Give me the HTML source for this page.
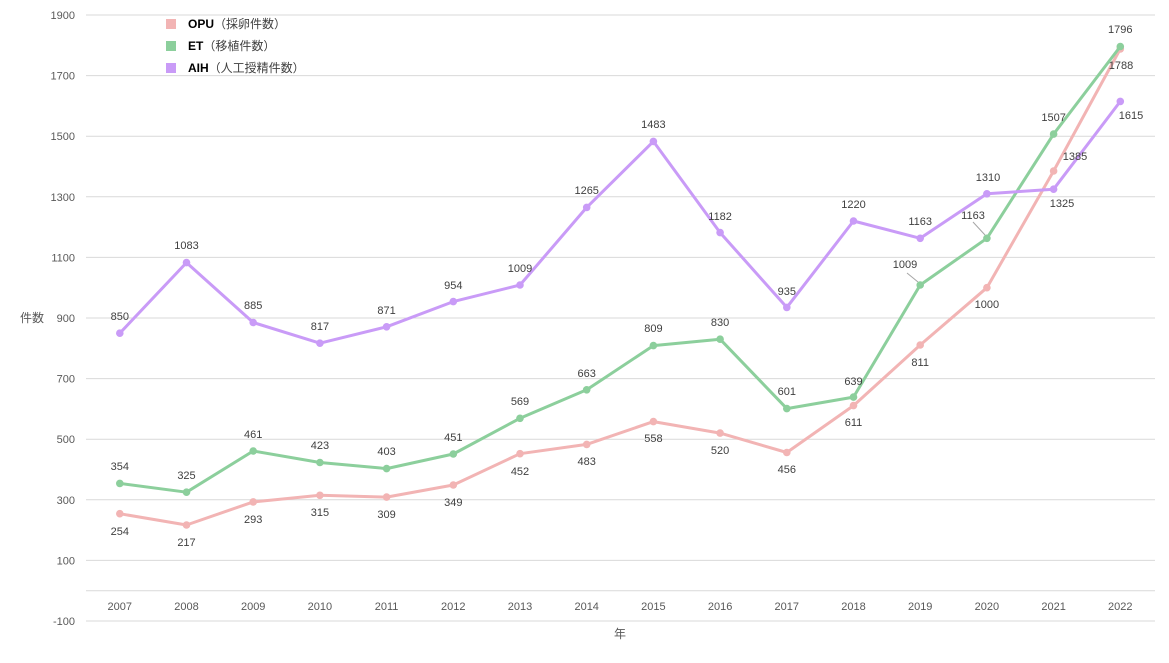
<!DOCTYPE html>
<html><head><meta charset="utf-8"><style>
html,body{margin:0;padding:0;background:#fff;}
svg{display:block;font-family:"Liberation Sans","Noto Sans CJK JP",sans-serif;}
.ax{font-size:11px;fill:#595959;}
.lb{font-size:11px;fill:#404040;}
</style></head><body>
<svg width="1169" height="663" viewBox="0 0 1169 663" xmlns="http://www.w3.org/2000/svg">
<rect width="1169" height="663" fill="#fff"/>
<g stroke="#d9d9d9" stroke-width="1">
<line x1="86" x2="1155" y1="15" y2="15"/>
<line x1="86" x2="1155" y1="75.6" y2="75.6"/>
<line x1="86" x2="1155" y1="136.2" y2="136.2"/>
<line x1="86" x2="1155" y1="196.8" y2="196.8"/>
<line x1="86" x2="1155" y1="257.4" y2="257.4"/>
<line x1="86" x2="1155" y1="318" y2="318"/>
<line x1="86" x2="1155" y1="378.6" y2="378.6"/>
<line x1="86" x2="1155" y1="439.2" y2="439.2"/>
<line x1="86" x2="1155" y1="499.8" y2="499.8"/>
<line x1="86" x2="1155" y1="560.4" y2="560.4"/>
<line x1="86" x2="1155" y1="590.7" y2="590.7"/>
<line x1="86" x2="1155" y1="621" y2="621"/>
</g>
<g class="ax" text-anchor="end">
<text x="75" y="19">1900</text>
<text x="75" y="79.6">1700</text>
<text x="75" y="140.2">1500</text>
<text x="75" y="200.8">1300</text>
<text x="75" y="261.4">1100</text>
<text x="75" y="322">900</text>
<text x="75" y="382.6">700</text>
<text x="75" y="443.2">500</text>
<text x="75" y="503.8">300</text>
<text x="75" y="564.4">100</text>
<text x="75" y="625">-100</text>
</g>
<g class="ax" text-anchor="middle">
<text x="119.8" y="610">2007</text>
<text x="186.5" y="610">2008</text>
<text x="253.2" y="610">2009</text>
<text x="319.9" y="610">2010</text>
<text x="386.6" y="610">2011</text>
<text x="453.3" y="610">2012</text>
<text x="520" y="610">2013</text>
<text x="586.7" y="610">2014</text>
<text x="653.4" y="610">2015</text>
<text x="720.1" y="610">2016</text>
<text x="786.8" y="610">2017</text>
<text x="853.5" y="610">2018</text>
<text x="920.2" y="610">2019</text>
<text x="986.9" y="610">2020</text>
<text x="1053.6" y="610">2021</text>
<text x="1120.3" y="610">2022</text>
</g>
<text x="32" y="322" text-anchor="middle" style="font-size:12px;fill:#595959">件数</text>
<text x="620" y="638" text-anchor="middle" style="font-size:12px;fill:#595959">年</text>

<!-- OPU -->
<polyline fill="none" stroke="#f2b4b4" stroke-width="3" stroke-linejoin="round" points="119.8,513.7 186.5,525 253.2,501.9 319.9,495.3 386.6,497.1 453.3,485 520,453.7 586.7,444.4 653.4,421.6 720.1,433.1 786.8,452.5 853.5,405.6 920.2,345 986.9,287.7 1053.6,171 1120.3,48.9"/>
<g fill="#f2b4b4">
<circle cx="119.8" cy="513.7" r="3.8"/><circle cx="186.5" cy="525" r="3.8"/><circle cx="253.2" cy="501.9" r="3.8"/><circle cx="319.9" cy="495.3" r="3.8"/><circle cx="386.6" cy="497.1" r="3.8"/><circle cx="453.3" cy="485" r="3.8"/><circle cx="520" cy="453.7" r="3.8"/><circle cx="586.7" cy="444.4" r="3.8"/><circle cx="653.4" cy="421.6" r="3.8"/><circle cx="720.1" cy="433.1" r="3.8"/><circle cx="786.8" cy="452.5" r="3.8"/><circle cx="853.5" cy="405.6" r="3.8"/><circle cx="920.2" cy="345" r="3.8"/><circle cx="986.9" cy="287.7" r="3.8"/><circle cx="1053.6" cy="171" r="3.8"/><circle cx="1120.3" cy="48.9" r="3.8"/>
</g>
<!-- ET -->
<polyline fill="none" stroke="#8ccf9c" stroke-width="3" stroke-linejoin="round" points="119.8,483.4 186.5,492.2 253.2,451 319.9,462.5 386.6,468.6 453.3,454 520,418.3 586.7,389.8 653.4,345.6 720.1,339.2 786.8,408.6 853.5,397.1 920.2,285 986.9,238.3 1053.6,134.1 1120.3,46.5"/>
<g fill="#8ccf9c">
<circle cx="119.8" cy="483.4" r="3.8"/><circle cx="186.5" cy="492.2" r="3.8"/><circle cx="253.2" cy="451" r="3.8"/><circle cx="319.9" cy="462.5" r="3.8"/><circle cx="386.6" cy="468.6" r="3.8"/><circle cx="453.3" cy="454" r="3.8"/><circle cx="520" cy="418.3" r="3.8"/><circle cx="586.7" cy="389.8" r="3.8"/><circle cx="653.4" cy="345.6" r="3.8"/><circle cx="720.1" cy="339.2" r="3.8"/><circle cx="786.8" cy="408.6" r="3.8"/><circle cx="853.5" cy="397.1" r="3.8"/><circle cx="920.2" cy="285" r="3.8"/><circle cx="986.9" cy="238.3" r="3.8"/><circle cx="1053.6" cy="134.1" r="3.8"/><circle cx="1120.3" cy="46.5" r="3.8"/>
</g>
<!-- AIH -->
<polyline fill="none" stroke="#c99bf7" stroke-width="3" stroke-linejoin="round" points="119.8,333.2 186.5,262.6 253.2,322.5 319.9,343.2 386.6,326.8 453.3,301.6 520,285 586.7,207.4 653.4,141.4 720.1,232.6 786.8,307.4 853.5,221 920.2,238.3 986.9,193.8 1053.6,189.2 1120.3,101.4"/>
<g fill="#c99bf7">
<circle cx="119.8" cy="333.2" r="3.8"/><circle cx="186.5" cy="262.6" r="3.8"/><circle cx="253.2" cy="322.5" r="3.8"/><circle cx="319.9" cy="343.2" r="3.8"/><circle cx="386.6" cy="326.8" r="3.8"/><circle cx="453.3" cy="301.6" r="3.8"/><circle cx="520" cy="285" r="3.8"/><circle cx="586.7" cy="207.4" r="3.8"/><circle cx="653.4" cy="141.4" r="3.8"/><circle cx="720.1" cy="232.6" r="3.8"/><circle cx="786.8" cy="307.4" r="3.8"/><circle cx="853.5" cy="221" r="3.8"/><circle cx="920.2" cy="238.3" r="3.8"/><circle cx="986.9" cy="193.8" r="3.8"/><circle cx="1053.6" cy="189.2" r="3.8"/><circle cx="1120.3" cy="101.4" r="3.8"/>
</g>

<!-- leader lines -->
<g stroke="#a6a6a6" stroke-width="1">
<line x1="907" y1="273" x2="918" y2="282"/>
<line x1="973" y1="222" x2="985" y2="235"/>
</g>

<!-- OPU labels -->
<g class="lb" text-anchor="middle">
<text x="119.8" y="535">254</text>
<text x="186.5" y="546">217</text>
<text x="253.2" y="523">293</text>
<text x="319.9" y="516">315</text>
<text x="386.6" y="518">309</text>
<text x="453.3" y="506">349</text>
<text x="520" y="475">452</text>
<text x="586.7" y="465">483</text>
<text x="653.4" y="442">558</text>
<text x="720.1" y="454">520</text>
<text x="786.8" y="473">456</text>
<text x="853.5" y="426">611</text>
<text x="920.2" y="366">811</text>
<text x="986.9" y="308">1000</text>
<text x="1075" y="160">1385</text>
<text x="1121" y="69">1788</text>
</g>
<!-- ET labels -->
<g class="lb" text-anchor="middle">
<text x="119.8" y="470">354</text>
<text x="186.5" y="479">325</text>
<text x="253.2" y="438">461</text>
<text x="319.9" y="449">423</text>
<text x="386.6" y="455">403</text>
<text x="453.3" y="441">451</text>
<text x="520" y="405">569</text>
<text x="586.7" y="377">663</text>
<text x="653.4" y="332">809</text>
<text x="720.1" y="326">830</text>
<text x="786.8" y="395">601</text>
<text x="853.5" y="385">639</text>
<text x="905" y="268">1009</text>
<text x="973" y="219">1163</text>
<text x="1053.6" y="121">1507</text>
<text x="1120.3" y="33">1796</text>
</g>
<!-- AIH labels -->
<g class="lb" text-anchor="middle">
<text x="119.8" y="320">850</text>
<text x="186.5" y="249">1083</text>
<text x="253.2" y="309">885</text>
<text x="319.9" y="330">817</text>
<text x="386.6" y="314">871</text>
<text x="453.3" y="289">954</text>
<text x="520" y="272">1009</text>
<text x="586.7" y="194">1265</text>
<text x="653.4" y="128">1483</text>
<text x="720.1" y="220">1182</text>
<text x="786.8" y="295">935</text>
<text x="853.5" y="208">1220</text>
<text x="920.2" y="225">1163</text>
<text x="988" y="181">1310</text>
<text x="1062" y="207">1325</text>
<text x="1131" y="119">1615</text>
</g>

<!-- legend -->
<rect x="166" y="19" width="10" height="10" fill="#f2b4b4"/>
<rect x="166" y="41" width="10" height="10" fill="#8ccf9c"/>
<rect x="166" y="63" width="10" height="10" fill="#c99bf7"/>
<g style="font-size:12px;fill:#000">
<text x="188" y="28"><tspan font-weight="bold">OPU</tspan><tspan fill="#404040">（採卵件数）</tspan></text>
<text x="188" y="50"><tspan font-weight="bold">ET</tspan><tspan fill="#404040">（移植件数）</tspan></text>
<text x="188" y="72"><tspan font-weight="bold">AIH</tspan><tspan fill="#404040">（人工授精件数）</tspan></text>
</g>
</svg>
</body></html>
